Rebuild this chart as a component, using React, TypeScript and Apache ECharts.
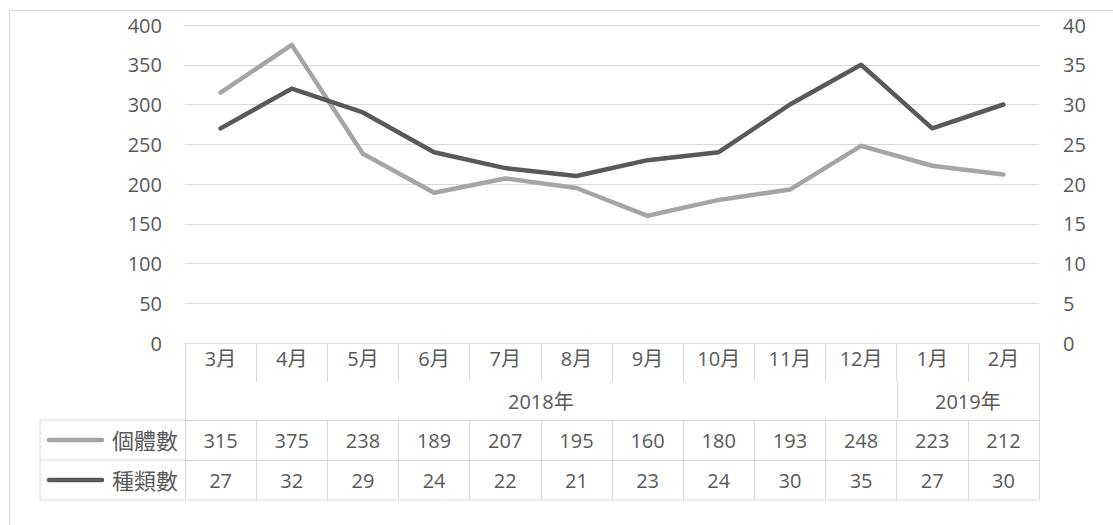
import React, { useEffect, useRef } from "react";
import * as echarts from "echarts";

const months = ["3月", "4月", "5月", "6月", "7月", "8月", "9月", "10月", "11月", "12月", "1月", "2月"];
const yearLabels = ["2018年", "2019年"];
const yearSpans = [10, 2];
const seriesNames = ["個體數", "種類數"];
const counts = [315, 375, 238, 189, 207, 195, 160, 180, 193, 248, 223, 212];
const species = [27, 32, 29, 24, 22, 21, 23, 24, 30, 35, 27, 30];
const leftTicks = { min: 0, max: 400, interval: 50 };
const rightTicks = { min: 0, max: 40, interval: 5 };

const W = 1113;
const H = 525;
const GL = 185;
const GR = 1039;
const GT = 25;
const GB = 343;
const ROW = [39, 38, 40, 40];
const LIGHT = "#A5A5A5";
const DARK = "#595959";
const TXT = "#595959";
const GRID = "#D9D9D9";
const FONT = "'Open Sans', 'Noto Sans CJK TC', sans-serif";
const FS = 20;

export default function App() {
  const ref = useRef<HTMLDivElement>(null);
  useEffect(() => {
    if (!ref.current) return;
    const chart = echarts.init(ref.current, undefined, { renderer: "svg" });
    const yearBounds: number[] = [0];
    const yearCenters: number[] = [];
    yearSpans.forEach((s) => {
      const start = yearBounds[yearBounds.length - 1];
      yearCenters.push(start + s / 2);
      yearBounds.push(start + s);
    });
    const total = months.length;
    const y1 = GB + ROW[0];
    const y2 = y1 + ROW[1];
    const y3 = y2 + ROW[2];
    const y4 = y3 + ROW[3];
    const tableLeft = 40;
    const lineStyle = { stroke: GRID, lineWidth: 1 };
    const txt = { color: TXT, fontSize: FS, fontFamily: FONT };
    const graphic: any[] = [
      { type: "rect", shape: { x: 9.5, y: 10.5, width: 1120, height: 530 }, style: { fill: "none", stroke: GRID, lineWidth: 1 }, silent: true },
      { type: "line", shape: { x1: tableLeft, y1: y2, x2: GL, y2: y2 }, style: lineStyle },
      { type: "line", shape: { x1: tableLeft, y1: y3, x2: GL, y2: y3 }, style: lineStyle },
      { type: "line", shape: { x1: tableLeft, y1: y4, x2: GR, y2: y4 }, style: lineStyle },
      { type: "line", shape: { x1: tableLeft, y1: y2, x2: tableLeft, y2: y4 }, style: lineStyle },
    ];
    yearBounds.forEach((b) => {
      const x = Math.round(GL + (b / total) * (GR - GL)) + 0.5;
      graphic.push({ type: "line", shape: { x1: x, y1: y1, x2: x, y2: y2 }, style: lineStyle });
    });
    [LIGHT, DARK].forEach((c, i) => {
      const cy = y2 + ROW[2] / 2 + i * ROW[2];
      graphic.push({ type: "line", shape: { x1: 49, y1: cy, x2: 102, y2: cy }, style: { stroke: c, lineWidth: 4.5, lineCap: "round" } });
      graphic.push({ type: "text", x: 178, y: cy, style: { text: seriesNames[i], fill: TXT, font: `22px ${FONT}`, align: "right", verticalAlign: "middle" } });
    });
    chart.setOption({
      animation: false,
      textStyle: { fontFamily: FONT },
      grid: { left: GL, right: W - GR, top: GT, bottom: H - GB },
      xAxis: [
        {
          type: "category",
          data: months,
          position: "bottom",
          axisLine: { lineStyle: { color: GRID } },
          axisTick: { show: true, interval: 0, length: ROW[0], lineStyle: { color: GRID } },
          axisLabel: { interval: 0, margin: 5, ...txt },
        },
        {
          type: "value",
          min: 0,
          max: total,
          position: "bottom",
          offset: ROW[0],
          axisLine: { show: false },
          splitLine: { show: false },
          axisTick: { show: false },
          axisLabel: {
            customValues: yearCenters,
            margin: 9,
            formatter: (v: number) => {
              const idx = yearCenters.indexOf(v);
              return idx >= 0 ? yearLabels[idx] : "";
            },
            ...txt,
          },
        },
        {
          type: "category",
          data: counts.map(String),
          position: "bottom",
          offset: ROW[0] + ROW[1],
          axisLine: { lineStyle: { color: GRID } },
          axisTick: { show: true, interval: 0, length: ROW[2], lineStyle: { color: GRID } },
          axisLabel: { interval: 0, margin: 10, ...txt },
        },
        {
          type: "category",
          data: species.map(String),
          position: "bottom",
          offset: ROW[0] + ROW[1] + ROW[2],
          axisLine: { lineStyle: { color: GRID } },
          axisTick: { show: true, interval: 0, length: ROW[3], lineStyle: { color: GRID } },
          axisLabel: { interval: 0, margin: 10, ...txt },
        },
      ],
      yAxis: [
        {
          type: "value",
          ...leftTicks,
          axisLine: { show: false },
          axisTick: { show: false },
          splitLine: { lineStyle: { color: GRID } },
          axisLabel: { margin: 23, ...txt },
        },
        {
          type: "value",
          ...rightTicks,
          position: "right",
          axisLine: { show: false },
          axisTick: { show: false },
          splitLine: { show: false },
          axisLabel: { margin: 24, ...txt },
        },
      ],
      series: [
        {
          name: seriesNames[0],
          type: "line",
          data: counts,
          xAxisIndex: 0,
          yAxisIndex: 0,
          showSymbol: false,
          symbol: "none",
          lineStyle: { color: LIGHT, width: 4.5, cap: "round", join: "round" },
          itemStyle: { color: LIGHT },
        },
        {
          name: seriesNames[1],
          type: "line",
          data: species,
          xAxisIndex: 0,
          yAxisIndex: 1,
          showSymbol: false,
          symbol: "none",
          lineStyle: { color: DARK, width: 4.5, cap: "round", join: "round" },
          itemStyle: { color: DARK },
        },
      ],
      graphic,
    });
    return () => chart.dispose();
  }, []);
  return <div ref={ref} style={{ position: "absolute", left: 0, top: 0, width: W, height: H }} />;
}
